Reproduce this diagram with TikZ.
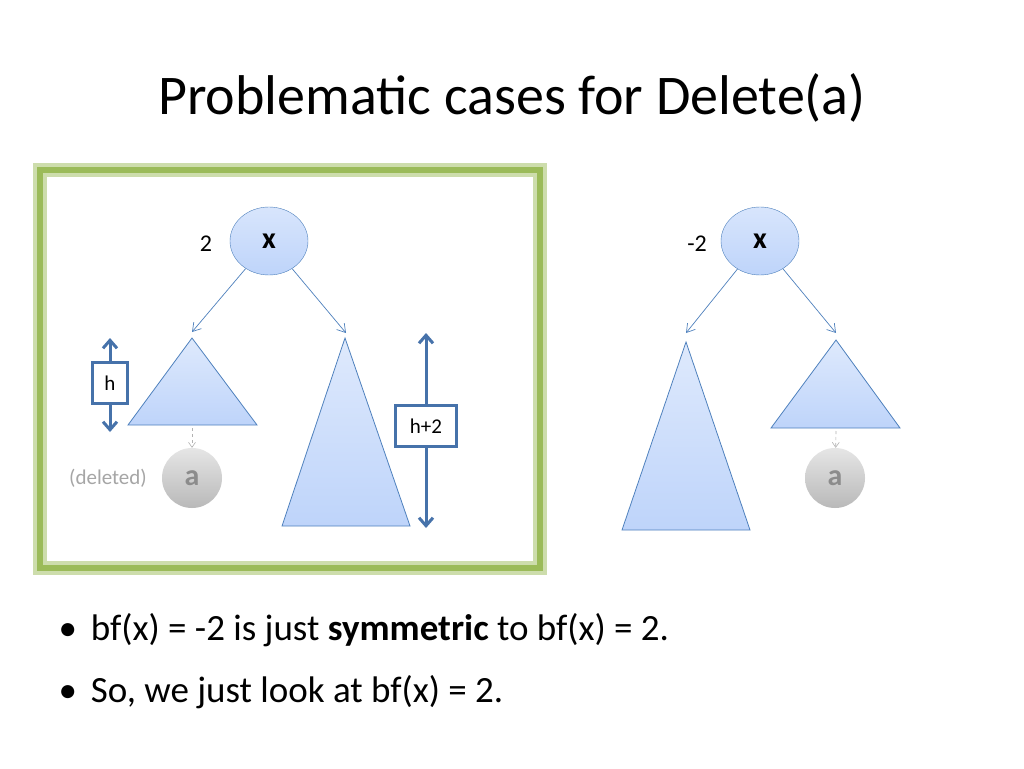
\documentclass[tikz,border=0pt]{standalone}
\usepackage{fontspec}
\setmainfont{Carlito}
\usetikzlibrary{arrows.meta,shapes.geometric}
\definecolor{nodeblue}{RGB}{190,212,250}
\definecolor{edgeblue}{RGB}{79,129,189}
\definecolor{arrblue}{RGB}{70,114,170}
\definecolor{framegreen}{RGB}{155,187,89}
\tikzset{
  tnode/.style={ellipse,draw=edgeblue,top color=nodeblue!60,bottom color=nodeblue,minimum width=78pt,minimum height=68pt,inner sep=0pt,font=\fontsize{30}{30}\selectfont\bfseries},
  anode/.style={circle,top color=gray!20,bottom color=gray!55,minimum size=60pt,inner sep=0pt,text=gray!90,font=\fontsize{30}{30}\selectfont\bfseries},
  tri/.style={draw=edgeblue,top color=nodeblue!50,bottom color=nodeblue,line width=0.8pt},
  edge/.style={draw=edgeblue,line width=0.7pt,-{Straight Barb[length=8pt,width=10pt]}},
  darr/.style={draw=gray!60,dashed,line width=0.6pt,-{Straight Barb[length=5pt,width=7pt]}},
  harr/.style={draw=arrblue,line width=3pt,{Straight Barb[length=8pt,width=14pt]}-{Straight Barb[length=8pt,width=14pt]}},
  hbox/.style={draw=arrblue,line width=2.5pt,fill=white,font=\fontsize{21}{21}\selectfont,inner sep=0pt},
  lab/.style={font=\fontsize{24}{24}\selectfont},
  bul/.style={anchor=west,font=\fontsize{37}{37}\selectfont}
}
\begin{document}
\begin{tikzpicture}[x=1pt,y=-1pt]
\useasboundingbox (0,0) rectangle (1024,768);
\fill[white] (0,0) rectangle (1024,768);
\node[font=\fontsize{56}{56}\selectfont] (title) at (512,98) {Problematic cases for Delete(a)};
\draw[framegreen!50,line width=14pt] (40,170) rectangle (540,568);
\draw[framegreen,line width=6pt] (40,170) rectangle (540,568);
% left tree
\node[tnode] (x1) at (269,241) {x};
\node[lab] (b1) at (206,244) {2};
\draw[tri] (192,338) -- (257,425) -- (128,425) -- cycle;
\coordinate (t1) at (192,332);
\coordinate (t1b) at (192,428);
\draw[tri] (345,338) -- (410,526) -- (282,526) -- cycle;
\coordinate (t2) at (346,333);
\draw[edge] (x1) -- (t1);
\draw[edge] (x1) -- (t2);
\node[anode] (a1) at (192,478) {a};
\node[lab,text=gray!70,font=\fontsize{21}{21}\selectfont] (del) at (108,478) {(deleted)};
\draw[darr] (t1b) -- (a1);
\coordinate (h1t) at (110,338); \coordinate (h1b) at (110,432);
\draw[harr] (h1t) -- (h1b);
\node[hbox,minimum width=35pt,minimum height=41pt] (hb) at (110,383) {h};
\coordinate (h2t) at (426,333); \coordinate (h2b) at (426,528);
\draw[harr] (h2t) -- (h2b);
\node[hbox,minimum width=61pt,minimum height=41pt] (hb2) at (426,426) {h+2};
% right tree
\node[tnode] (x2) at (760,241) {x};
\node[lab] (b2) at (697,244) {-2};
\draw[tri] (686,342) -- (750,530) -- (622,530) -- cycle;
\draw[tri] (836,340) -- (900,428) -- (771,428) -- cycle;
\coordinate (t3) at (686,333);
\coordinate (t4) at (836,333);
\coordinate (t4b) at (836,431);
\draw[edge] (x2) -- (t3);
\draw[edge] (x2) -- (t4);
\node[anode] (a2) at (835,478) {a};
\draw[darr] (t4b) -- (a2);
% bullets
\node[bul] (l1) at (55,630) {•\hspace{14pt}bf(x) = -2 is just \textbf{symmetric} to bf(x) = 2.};
\node[bul] (l2) at (55,692) {•\hspace{14pt}So, we just look at bf(x) = 2.};
\end{tikzpicture}
\end{document}
